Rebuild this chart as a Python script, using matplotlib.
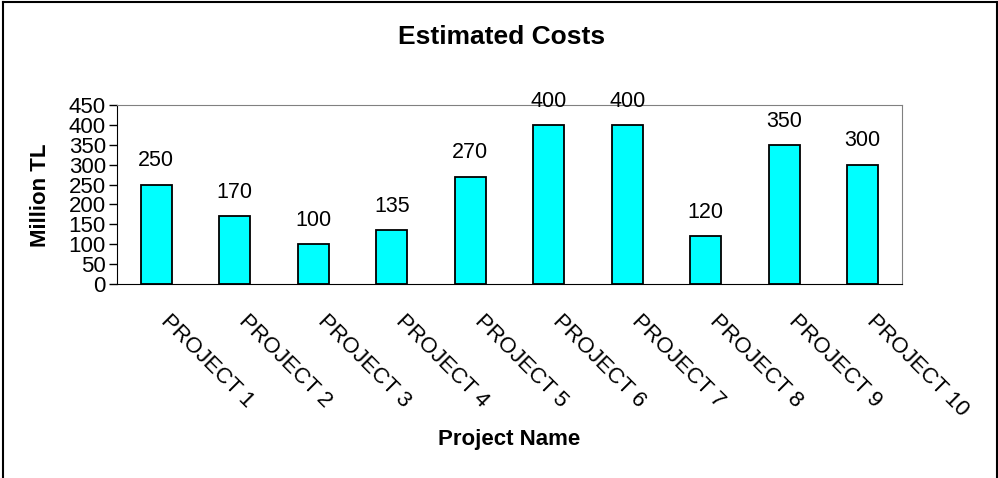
import matplotlib.pyplot as plt
import matplotlib.transforms as mtransforms
from matplotlib.lines import Line2D

projects = ['PROJECT 1', 'PROJECT 2', 'PROJECT 3', 'PROJECT 4', 'PROJECT 5',
            'PROJECT 6', 'PROJECT 7', 'PROJECT 8', 'PROJECT 9', 'PROJECT 10']
costs = [250, 170, 100, 135, 270, 400, 400, 120, 350, 300]
y_ticks = [0, 50, 100, 150, 200, 250, 300, 350, 400, 450]

plt.rcParams['font.family'] = ['Liberation Sans', 'DejaVu Sans']

fig = plt.figure(figsize=(9.98, 4.78), dpi=100)
W, H = 998, 478
ax = fig.add_axes([117 / W, 1 - 284 / H, (902 - 117) / W, (284 - 105) / H])

x = range(len(projects))
ax.bar(x, costs, width=0.4, color='#00FFFF', edgecolor='black', linewidth=1.3)

for i, v in zip(x, costs):
    ax.annotate(str(v), (i, v), xytext=(0, 9.5), textcoords='offset points',
                ha='center', va='bottom', fontsize=15.5)

ax.set_xlim(-0.5, len(projects) - 0.5)
ax.set_ylim(0, 450)
ax.set_yticks(y_ticks)
ax.tick_params(axis='y', labelsize=16, length=6, width=1, pad=2)
ax.set_xticks(list(x))
ax.set_xticklabels(projects, rotation=-45, ha='left', va='top',
                   rotation_mode='anchor', fontsize=16)
ax.tick_params(axis='x', length=0, pad=19)
shift = mtransforms.ScaledTranslation(15 / 100, 0, fig.dpi_scale_trans)
for lbl in ax.get_xticklabels():
    lbl.set_transform(lbl.get_transform() + shift)

for side in ['top', 'right']:
    ax.spines[side].set_color('#808080')
for side in ['left', 'bottom']:
    ax.spines[side].set_color('black')

fig.text(40 / W, 1 - 195 / H, 'Million TL', ha='center', va='center',
         rotation=90, fontsize=16, fontweight='bold')
fig.text(509.5 / W, 1 - 440 / H, 'Project Name', ha='center', va='center',
         fontsize=16, fontweight='bold')
fig.text(502 / W, 1 - 37 / H, 'Estimated Costs', ha='center', va='center',
         fontsize=19, fontweight='bold')

# outer chart frame
bx0, bx1, by = 2.5 / W, 996.5 / W, 1 - 1.5 / H
fig.add_artist(Line2D([bx0, bx0], [0, by], color='black', lw=1.5, transform=fig.transFigure))
fig.add_artist(Line2D([bx1, bx1], [0, by], color='black', lw=1.5, transform=fig.transFigure))
fig.add_artist(Line2D([bx0, bx1], [by, by], color='black', lw=1.5, transform=fig.transFigure))

fig.savefig('out.png', dpi=100)
